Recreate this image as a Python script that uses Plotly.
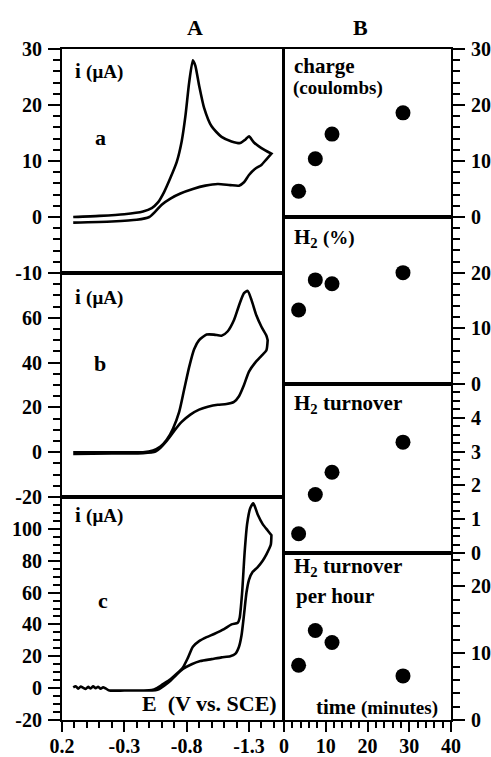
import plotly.graph_objects as go

# ---------------- data ----------------
# Panel A-a : cyclic voltammogram (E in V vs SCE, i in uA)
Ea_fwd = [0.11, -0.1, -0.3, -0.45, -0.52, -0.57, -0.62, -0.67, -0.72, -0.76, -0.79, -0.82, -0.85,
          -0.87, -0.9, -0.94, -1.0, -1.08, -1.16, -1.23, -1.27, -1.30, -1.34, -1.40, -1.48]
ia_fwd = [0.0, 0.2, 0.5, 1.0, 1.6, 2.6, 4.5, 7.0, 9.8, 13.5, 18, 24, 28,
          27, 23.5, 19.5, 16.2, 14.3, 13.5, 13.2, 13.8, 14.4, 13.3, 12.3, 11.3]
Ea_rev = [-1.48, -1.44, -1.40, -1.35, -1.30, -1.26, -1.22, -1.15, -1.05, -0.95, -0.85, -0.75,
          -0.67, -0.6, -0.55, -0.5, -0.4, -0.2, 0.11]
ia_rev = [11.3, 10.3, 9.3, 8.6, 7.5, 6.2, 5.6, 5.7, 5.9, 5.6, 5.0, 4.2,
          3.3, 2.2, 1.0, 0.0, -0.5, -0.8, -1.0]

# Panel A-b
Eb_fwd = [0.11, -0.2, -0.45, -0.53, -0.59, -0.64, -0.69, -0.74, -0.78, -0.82, -0.86, -0.9, -0.96,
          -1.02, -1.08, -1.13, -1.18, -1.22, -1.26, -1.29, -1.32, -1.36, -1.40, -1.44, -1.45]
ib_fwd = [0.0, 0.0, 0.0, 0.8, 2.5, 5.5, 10.5, 18, 28, 38, 46, 50, 52.5,
          52.5, 52, 54, 59, 65.5, 71, 72, 68, 61, 56, 52, 50]
Eb_rev = [-1.45, -1.44, -1.40, -1.35, -1.30, -1.26, -1.22, -1.18, -1.12, -1.05, -0.97, -0.9,
          -0.83, -0.76, -0.70, -0.64, -0.59, -0.55, -0.45, -0.2, 0.11]
ib_rev = [50, 45.5, 43, 40, 36, 30, 25, 22.5, 21.5, 21.2, 20.3, 19,
          16.8, 13.5, 9.5, 5, 2, 0.3, -0.4, -0.6, -0.8]

# Panel A-c
Ec_fwd = [0.11, 0.09, 0.07, 0.05, 0.03, 0.01, -0.01, -0.03, -0.05, -0.07, -0.09, -0.11, -0.13,
          -0.15, -0.18, -0.3, -0.45, -0.52, -0.56, -0.61, -0.67, -0.72, -0.77, -0.81, -0.85,
          -0.9, -0.96, -1.02, -1.1, -1.16, -1.21, -1.225, -1.245, -1.265, -1.285, -1.31,
          -1.335, -1.37, -1.41, -1.45, -1.48]
ic_fwd = [0.5, 1.2, -0.3, 1.0, 0.2, -0.5, 0.8, -0.2, 1.1, 0.0, 0.9, -0.4, 0.6,
          -0.2, -1.5, -1.5, -1.5, -1.2, 0.0, 2.5, 5.6, 9, 13, 19, 26,
          29.5, 32, 34, 37, 40, 41, 44, 60, 85, 103, 113,
          116, 109, 103, 99, 96]
Ec_rev = [-1.48, -1.475, -1.44, -1.41, -1.37, -1.33, -1.30, -1.28, -1.26, -1.24, -1.22, -1.19,
          -1.15, -1.08, -1.0, -0.91, -0.84, -0.77, -0.72, -0.67, -0.62, -0.58, -0.55, -0.45,
          -0.3, -0.18]
ic_rev = [96, 90, 84, 80, 76, 73, 68, 60, 46, 33, 26, 21.5,
          20, 19.3, 18.2, 17, 15, 12, 8.5, 4.6, 1.5, -0.6, -1.3, -1.5,
          -1.5, -1.5]

# Panel B : electrolysis results vs time (minutes)
time_min = [3.5, 7.5, 11.5, 28.5]
charge_C = [4.6, 10.4, 14.8, 18.6]
h2_pct = [13.3, 18.7, 18.0, 20.0]
h2_turnover = [0.57, 1.73, 2.39, 3.28]
h2_turnover_hr = [8.2, 13.4, 11.6, 6.6]

# tick labels
E_tickvals = [0.2, -0.3, -0.8, -1.3]
E_ticktext = ["0.2", "-0.3", "-0.8", "-1.3"]
t_tickvals = [0, 10, 20, 30, 40]

# ---------------- figure ----------------
W, H = 491, 757
def X(px): return px / W
def Y(py): return 1 - py / H

FONT = "Liberation Serif"
tickfont = dict(family=FONT, size=20, color="black")
LW = 2.2

def b(s):
    return f"<b>{s}</b>"

fig = go.Figure()
line = dict(color="black", width=2.6, shape="spline", smoothing=0.6)

fig.add_trace(go.Scatter(x=Ec_fwd + Ec_rev, y=ic_fwd + ic_rev, mode="lines", line=line,
                         xaxis="x", yaxis="y", showlegend=False))
fig.add_trace(go.Scatter(x=Eb_fwd + Eb_rev, y=ib_fwd + ib_rev, mode="lines", line=line,
                         xaxis="x2", yaxis="y2", showlegend=False))
fig.add_trace(go.Scatter(x=Ea_fwd + Ea_rev, y=ia_fwd + ia_rev, mode="lines", line=line,
                         xaxis="x3", yaxis="y3", showlegend=False))

mk = dict(color="black", size=15)
for k, yv in zip([4, 5, 6, 7], [h2_turnover_hr, h2_turnover, h2_pct, charge_C]):
    fig.add_trace(go.Scatter(x=time_min, y=yv, mode="markers", marker=mk,
                             xaxis=f"x{k}", yaxis=f"y{k}", showlegend=False))

def base_axis(**kw):
    d = dict(showline=True, linecolor="black", linewidth=LW, mirror=True, automargin=False,
             showgrid=False, zeroline=False, tickfont=tickfont, tickcolor="black")
    d.update(kw)
    return d

Axd = [X(62), X(283)]
Bxd = [X(284), X(451)]
Erange = [0.2, -1.573]

layout = dict(width=W, height=H, margin=dict(l=0, r=0, t=0, b=0, pad=0, autoexpand=False),
              template="none",
              paper_bgcolor="white", plot_bgcolor="white", showlegend=False)

# A panels x
layout["xaxis"] = base_axis(domain=Axd, range=Erange, anchor="y", ticks="outside",
                            tickmode="array", tickvals=E_tickvals,
                            ticktext=[b(t) for t in E_ticktext], ticklen=10, tickwidth=2,
                            ticklabelstandoff=-3,
                            minor=dict(tickmode="linear", tick0=0.2, dtick=0.1, ticks="outside",
                                       ticklen=6, tickwidth=1.5, tickcolor="black"))
layout["xaxis2"] = base_axis(domain=Axd, range=Erange, anchor="y2", showticklabels=False, ticks="")
layout["xaxis3"] = base_axis(domain=Axd, range=Erange, anchor="y3", showticklabels=False, ticks="")

def left_y(dom, rng, vals, mdt, anchor):
    return base_axis(domain=dom, range=rng, anchor=anchor, side="left", ticks="outside",
                     tickmode="array", tickvals=vals, ticktext=[b(v) for v in vals],
                     ticklen=12, tickwidth=2, ticklabelstandoff=2,
                     minor=dict(tickmode="linear", tick0=rng[0], dtick=mdt, ticks="outside",
                                ticklen=7, tickwidth=1.5, tickcolor="black"))

layout["yaxis"] = left_y([Y(720), Y(497)], [-20, 120], [-20, 0, 20, 40, 60, 80, 100], 5, "x")
layout["yaxis2"] = left_y([Y(497), Y(273)], [-20, 80], [-20, 0, 20, 40, 60], 5, "x2")
layout["yaxis3"] = left_y([Y(273), Y(49)], [-10, 30], [-10, 0, 10, 20, 30], 2, "x3")

# B panels x
layout["xaxis4"] = base_axis(domain=Bxd, range=[0, 40], anchor="y4", ticks="outside",
                             tickmode="array", tickvals=t_tickvals,
                             ticktext=[b(v) for v in t_tickvals], ticklen=10, tickwidth=2,
                             ticklabelstandoff=-3,
                             minor=dict(tickmode="linear", tick0=0, dtick=2, ticks="outside",
                                        ticklen=6, tickwidth=1.5, tickcolor="black"))
for k in [5, 6, 7]:
    layout[f"xaxis{k}"] = base_axis(domain=Bxd, range=[0, 40], anchor=f"y{k}",
                                    showticklabels=False, ticks="")

def right_y(dom, rng, vals, mdt, anchor):
    return base_axis(domain=dom, range=rng, anchor=anchor, side="right", ticks="outside",
                     tickmode="array", tickvals=vals, ticktext=[b(v) for v in vals],
                     ticklen=12, tickwidth=2, ticklabelstandoff=2,
                     minor=dict(tickmode="linear", tick0=rng[0], dtick=mdt, ticks="outside",
                                ticklen=7, tickwidth=1.5, tickcolor="black"))

layout["yaxis4"] = right_y([Y(720), Y(553)], [0, 25], [0, 10, 20], 2, "x4")
layout["yaxis5"] = right_y([Y(553), Y(384)], [0, 5], [0, 1, 2, 3, 4], 0.25, "x5")
layout["yaxis6"] = right_y([Y(384), Y(217)], [0, 30], [0, 10, 20], 2, "x6")
layout["yaxis7"] = right_y([Y(217), Y(49)], [0, 30], [0, 10, 20, 30], 2, "x7")

fig.update_layout(**layout)

def ann(text, px, py, size=20, xanchor="left"):
    fig.add_annotation(text=b(text), x=X(px), y=Y(py), xref="paper", yref="paper",
                       xanchor=xanchor, yanchor="middle", showarrow=False,
                       font=dict(family=FONT, size=size, color="black"))

iu = "i\u00a0<span style='font-size:19px'>(\u03bcA)</span>"
ann("A", 195, 28, 22, "center")
ann("B", 360, 27, 22, "center")
ann(iu, 73, 71, 21)
ann("a", 100, 138, 22, "center")
ann(iu, 73, 297, 21)
ann("b", 100, 363, 22, "center")
ann(iu, 73, 515, 21)
ann("c", 103, 600, 22, "center")
ann("E\u00a0 (V vs. SCE)", 279, 703, 22, "right")
ann("charge", 292, 66, 21)
ann("(coulombs)", 291, 88, 19)
ann("H<sub>2</sub> <span style='font-size:19px'>(%)</span>", 292, 238, 21)
ann("H<sub>2</sub> turnover", 292, 404, 21)
ann("H<sub>2</sub> turnover", 292, 567, 21)
ann("per hour", 294, 596, 21)
ann("time <span style='font-size:19px'>(minutes)</span>", 440, 707, 21, "right")

fig.write_html("out.html")
